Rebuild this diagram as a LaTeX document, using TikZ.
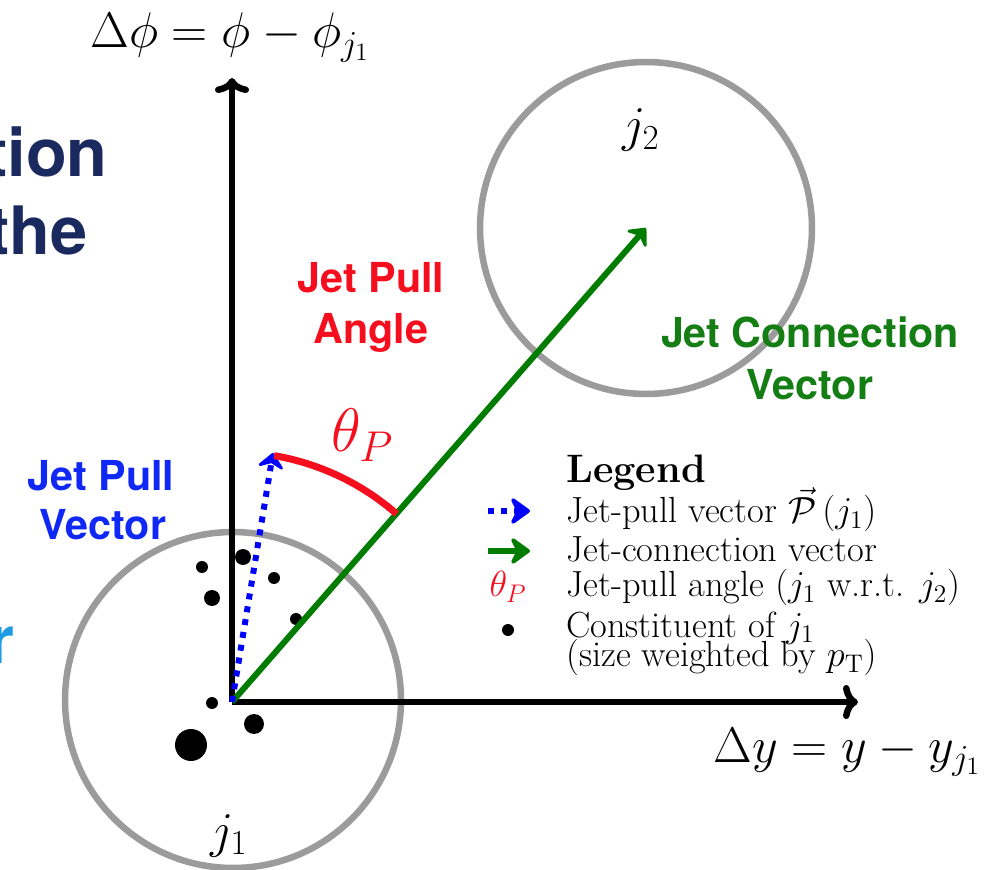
\documentclass[tikz,border=0pt]{standalone}
\usepackage{fix-cm}
\usepackage{fontspec}
\newfontfamily\hv{TeX Gyre Heros}
\usetikzlibrary{arrows.meta}
\definecolor{jred}{RGB}{245,15,30}
\definecolor{jblue}{RGB}{15,40,245}
\definecolor{jarrowblue}{RGB}{0,0,255}
\definecolor{jgreen}{RGB}{0,125,0}
\definecolor{jgtext}{RGB}{20,125,20}
\definecolor{jgray}{RGB}{155,155,155}
\definecolor{navy}{RGB}{27,42,94}
\definecolor{sky}{RGB}{30,155,225}
\tikzset{
  axisline/.style={line width=0.13cm,-{Computer Modern Rightarrow[length=0.3cm,width=0.68cm]}},
  jetcircle/.style={draw=jgray,line width=0.13cm},
  connvec/.style={draw=jgreen,line width=0.12cm,-{Stealth[length=0.36cm,width=0.64cm,inset=0.14cm,round]}},
  pullvec/.style={draw=jarrowblue,line width=0.12cm,dash pattern=on 0.12cm off 0.14cm,-{Stealth[length=0.36cm,width=0.64cm,inset=0.14cm,round]}},
  anglearc/.style={draw=jred,line width=0.14cm},
  mathlab/.style={inner sep=0pt,font=\fontsize{28.5}{32}\selectfont},
  biglab/.style={inner sep=0pt,font=\hv\bfseries\fontsize{23.5}{28}\selectfont},
  fraglab/.style={inner sep=0pt,font=\hv\bfseries\fontsize{38}{44}\selectfont},
  legtext/.style={inner sep=0pt,anchor=base west,font=\fontsize{20.7}{24}\selectfont},
  constituent/.style={fill=black},
}
\begin{document}
\begin{tikzpicture}[x=0.02cm,y=0.02cm]
\useasboundingbox (0,0) rectangle (1007,869);
% clipped slide text fragments
\node[fraglab,text=navy,anchor=base east] (fragA) at (108,692) {tion};
\node[fraglab,text=navy,anchor=base east] (fragB) at (88,614) {the};
\node[fraglab,text=sky,anchor=base east] (fragC) at (15,206) {r};
% key points
\coordinate (O) at (232,167);
\coordinate (ytip) at (232,791);
\coordinate (xtip) at (858,167);
\coordinate (c1) at (233,169);
\coordinate (c2) at (646,641);
\coordinate (ptip) at (273,416);
% jet circles
\draw[jetcircle] (c1) circle[radius=3.36cm];
\draw[jetcircle] (c2) circle[radius=3.32cm];
% constituents
\fill[constituent] (243,312) circle[radius=0.16cm];
\fill[constituent] (202,302) circle[radius=0.12cm];
\fill[constituent] (212,271) circle[radius=0.16cm];
\fill[constituent] (274,291) circle[radius=0.12cm];
\fill[constituent] (296,250) circle[radius=0.12cm];
\fill[constituent] (212,166) circle[radius=0.12cm];
\fill[constituent] (254,145) circle[radius=0.2cm];
\fill[constituent] (191,124) circle[radius=0.32cm];
% axes
\draw[axisline] (O) -- (ytip);
\draw[axisline] (O) -- (xtip);
% vectors
\draw[connvec] (O) -- (c2);
\draw[pullvec] (O) -- (ptip);
\draw[anglearc] (O) ++(80.3:5cm) arc[start angle=80.3, end angle=48.8, radius=5cm];
% axis and jet labels
\node[mathlab,anchor=base west] (ylab) at (90,821) {$\Delta\phi = \phi - \phi_{j_1}$};
\node[mathlab,anchor=base west] (xlab) at (713,107) {$\Delta y = y - y_{j_1}$};
\node[mathlab,anchor=base] (j2lab) at (641,727) {$j_2$};
\node[mathlab,anchor=base] (j1lab) at (229,22) {$j_1$};
\node[inner sep=0pt,anchor=base west,text=jred,font=\fontsize{35}{40}\selectfont] (thlab) at (331,417) {$\theta_P$};
% descriptive labels
\node[biglab,text=jred,anchor=base] (angA) at (371,576) {Jet Pull};
\node[biglab,text=jred,anchor=base] (angB) at (371,525) {Angle};
\node[biglab,text=jblue,anchor=base] (pullA) at (101,378) {Jet Pull};
\node[biglab,text=jblue,anchor=base] (pullB) at (103,329) {Vector};
\node[biglab,text=jgtext,anchor=base] (connA) at (810,521) {Jet Connection};
\node[biglab,text=jgtext,anchor=base] (connB) at (810,469) {Vector};
% legend
\node[legtext,font=\bfseries\fontsize{22.6}{26}\selectfont] (legtitle) at (566,386) {Legend};
\coordinate (lpA) at (488,358);
\coordinate (lpB) at (530,358);
\coordinate (lcA) at (488,318);
\coordinate (lcB) at (530,318);
\draw[pullvec,-{Stealth[length=0.46cm,width=0.66cm,inset=0.16cm,round]}] (lpA) -- (lpB);
\draw[connvec,-{Stealth[length=0.46cm,width=0.66cm,inset=0.16cm,round]}] (lcA) -- (lcB);
\node[inner sep=0pt,anchor=base,text=jred,font=\fontsize{20.7}{24}\selectfont] (legth) at (508,272) {$\theta_P$};
\fill[constituent] (508,239) circle[radius=0.12cm];
\node[legtext] (legA) at (566,346) {Jet-pull vector $\vec{\mathcal{P}}\,(j_1)$};
\node[legtext] (legB) at (566,307) {Jet-connection vector};
\node[legtext] (legC) at (566,272) {Jet-pull angle $(j_1$ w.r.t. $j_2)$};
\node[legtext] (legD) at (566,232) {Constituent of $j_1$};
\node[legtext] (legE) at (566,202) {(size weighted by $p_{\mathrm{T}})$};
\end{tikzpicture}
\end{document}
